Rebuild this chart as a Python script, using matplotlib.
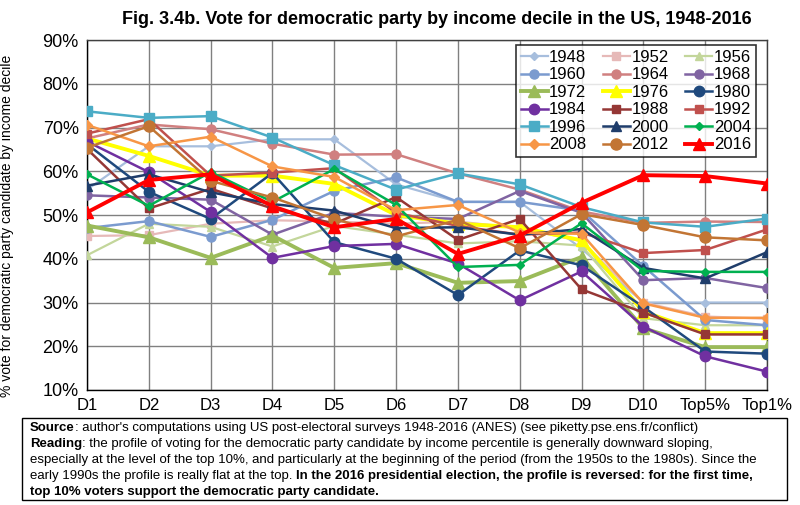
import matplotlib
matplotlib.use("Agg")
import matplotlib.pyplot as plt
from matplotlib.patches import Rectangle

# categories
deciles = ["D1", "D2", "D3", "D4", "D5", "D6", "D7", "D8", "D9", "D10", "Top5%", "Top1%"]

# vote share (%) per election year
v1948 = [55.8, 65.7, 65.7, 67.3, 67.3, 57.0, 53.0, 53.0, 42.3, 30.0, 30.0, 30.0]
v1952 = [45.2, 45.4, 48.0, 48.8, 48.5, 48.0, 48.5, 47.0, 44.0, 30.0, 26.8, 26.3]
v1956 = [40.8, 48.0, 47.3, 42.8, 47.5, 45.5, 43.5, 44.0, 43.0, 26.4, 24.8, 24.8]
v1960 = [47.0, 48.6, 45.0, 48.9, 55.5, 58.6, 53.0, 53.0, 51.0, 38.3, 26.0, 24.8]
v1964 = [67.5, 70.7, 69.6, 66.3, 63.8, 63.9, 59.5, 55.8, 50.8, 48.2, 48.5, 48.4]
v1968 = [54.5, 54.0, 53.5, 45.5, 50.5, 49.6, 49.1, 55.5, 50.5, 35.1, 35.6, 33.3]
v1972 = [47.6, 44.9, 40.2, 45.3, 37.9, 39.0, 34.5, 34.9, 40.4, 24.1, 19.8, 19.8]
v1976 = [67.5, 63.5, 59.0, 59.0, 57.1, 50.0, 48.0, 47.2, 44.2, 27.9, 23.0, 23.0]
v1980 = [66.2, 55.3, 49.1, 59.6, 43.8, 40.0, 31.7, 41.9, 38.5, 29.0, 18.8, 18.3]
v1984 = [66.8, 59.8, 50.7, 40.2, 42.9, 43.4, 38.9, 30.5, 37.1, 24.5, 17.7, 14.2]
v1988 = [65.1, 51.5, 56.0, 51.5, 48.0, 54.1, 44.3, 49.1, 33.0, 27.7, 22.7, 22.7]
v1992 = [68.6, 71.9, 59.0, 59.7, 60.7, 50.5, 47.5, 45.5, 46.0, 41.3, 42.0, 46.7]
v1996 = [73.7, 72.2, 72.6, 67.7, 61.4, 55.8, 59.5, 57.0, 51.8, 48.3, 47.3, 49.2]
v2000 = [56.7, 59.3, 55.2, 52.5, 51.0, 47.0, 47.2, 45.5, 46.8, 37.9, 35.5, 41.5]
v2004 = [59.3, 52.1, 59.8, 53.0, 60.5, 52.3, 38.1, 38.6, 48.1, 37.2, 37.0, 37.0]
v2008 = [70.6, 65.7, 67.9, 61.1, 58.7, 51.1, 52.3, 46.0, 45.7, 29.8, 26.5, 26.5]
v2012 = [65.4, 70.3, 57.8, 54.0, 49.1, 45.1, 48.9, 42.4, 50.2, 47.7, 44.9, 44.2]
v2016 = [50.6, 58.0, 59.3, 52.0, 47.2, 49.1, 41.1, 45.3, 52.8, 59.1, 58.9, 57.2]

years = ["1948", "1952", "1956", "1960", "1964", "1968", "1972", "1976", "1980",
         "1984", "1988", "1992", "1996", "2000", "2004", "2008", "2012", "2016"]
values = [v1948, v1952, v1956, v1960, v1964, v1968, v1972, v1976, v1980,
          v1984, v1988, v1992, v1996, v2000, v2004, v2008, v2012, v2016]

# (colour, marker, marker size, line width)
STYLES = {
    "1948": ("#A7BEDD", "D", 4.5, 1.6),
    "1952": ("#E6B9B8", "s", 6, 1.6),
    "1956": ("#C3D69B", "^", 6, 1.6),
    "1960": ("#7B9BCF", "o", 6.5, 1.8),
    "1964": ("#D08080", "o", 6.5, 1.8),
    "1968": ("#8064A2", "o", 6.5, 1.8),
    "1972": ("#9BBB59", "^", 8, 2.8),
    "1976": ("#FFFF00", "^", 8, 2.8),
    "1980": ("#1F497D", "o", 7.5, 1.8),
    "1984": ("#7030A0", "o", 7.5, 1.8),
    "1988": ("#953735", "s", 6, 1.8),
    "1992": ("#C0504D", "s", 6, 1.8),
    "1996": ("#4BACC6", "s", 6.5, 1.8),
    "2000": ("#1F3D6B", "^", 6.5, 1.8),
    "2004": ("#00B050", "D", 4.5, 1.8),
    "2008": ("#F79646", "D", 5, 1.8),
    "2012": ("#C27534", "o", 8, 1.8),
    "2016": ("#FF0000", "^", 8.5, 2.8),
}

ARIAL = ["Liberation Sans", "DejaVu Sans"]

fig = plt.figure(figsize=(8.0, 5.05), dpi=100)
ax = fig.add_axes([87 / 800, 1 - 390 / 505, 680 / 800, 350 / 505])

x = list(range(len(deciles)))
handles = {}
for yr, vals in zip(years, values):
    col, mk, ms, lw = STYLES[yr]
    h, = ax.plot(x, vals, color=col, marker=mk, markersize=ms, linewidth=lw,
                 markeredgecolor=col, label=yr, zorder=3)
    handles[yr] = h

ax.set_xlim(0, len(deciles) - 1)
ax.set_ylim(10, 90)
ax.set_xticks(x)
ax.set_xticklabels(deciles, family=ARIAL, fontsize=12)
ax.set_yticks(range(10, 91, 10))
ax.set_yticklabels([f"{t}%" for t in range(10, 91, 10)], family=ARIAL, fontsize=13)
ax.tick_params(length=0, pad=6)
ax.grid(True, color="#808080", linewidth=1.0)
ax.set_axisbelow(True)
for s in ax.spines.values():
    s.set_color("#404040")
    s.set_linewidth(1.0)
ax.spines["left"].set_color("black")
ax.spines["bottom"].set_color("black")

ax.set_ylabel("% vote for democratic party candidate by income decile",
              family=ARIAL, fontsize=10)
ax.yaxis.set_label_coords(-0.108, 0.47)

# legend is filled column by column, so reorder to read row by row
order = years[0::3] + years[1::3] + years[2::3]
leg = ax.legend([handles[y] for y in order], order, ncol=3, loc="upper right",
                bbox_to_anchor=(0.984, 0.986), borderaxespad=0,
                prop={"family": ARIAL, "size": 12},
                frameon=True, fancybox=False, edgecolor="black", handlelength=1.6,
                handletextpad=0.1, columnspacing=1.0, labelspacing=0.15,
                borderpad=0.3)
leg.get_frame().set_linewidth(1.2)
leg.set_zorder(5)

fig.text(437 / 800, 1 - 20 / 505, "Fig. 3.4b. Vote for democratic party by income decile in the US, 1948-2016",
         ha="center", va="center", family=ARIAL, fontsize=13, fontweight="bold")

# note box
fig.patches.append(Rectangle((22 / 800, 1 - 500 / 505), 765 / 800, 82 / 505,
                             transform=fig.transFigure, fill=False,
                             edgecolor="black", linewidth=1.0))

note_lines = [
    [("Source", True), (": author's computations using US post-electoral surveys 1948-2016 (ANES) (see piketty.pse.ens.fr/conflict)", False)],
    [("Reading", True), (": the profile of voting for the democratic party candidate by income percentile is generally downward sloping,", False)],
    [("especially at the level of the top 10%, and particularly at the beginning of the period (from the 1950s to the 1980s). Since the", False)],
    [("early 1990s the profile is really flat at the top. ", False),
     ("In the 2016 presidential election, the profile is reversed: for the first time,", True)],
    [("top 10% voters support the democratic party candidate.", True)],
]

renderer = fig.canvas.get_renderer()
y_px = 428
for runs in note_lines:
    x_px = 30
    for txt, bold in runs:
        t = fig.text(x_px / 800, 1 - y_px / 505, txt, ha="left", va="center",
                     family=ARIAL, fontsize=9.5,
                     fontweight="bold" if bold else "normal")
        bb = t.get_window_extent(renderer=renderer)
        x_px += bb.width
    y_px += 16

fig.savefig("out.png", dpi=100)
